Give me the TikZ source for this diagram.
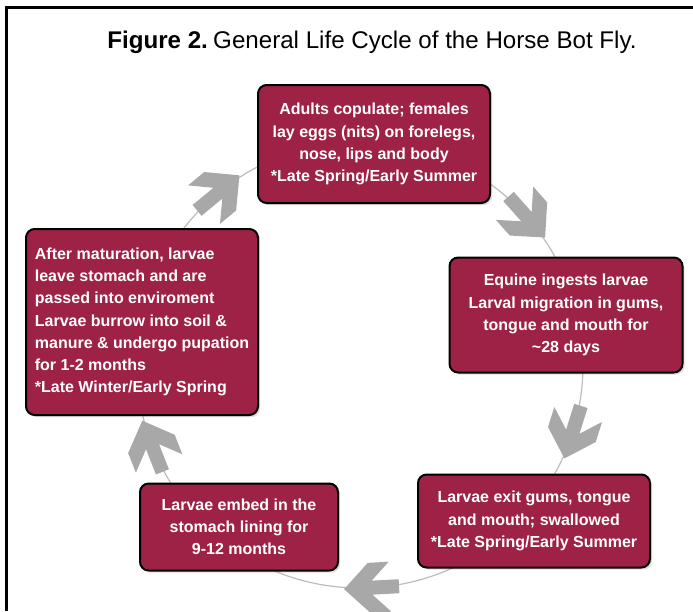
\documentclass[tikz,border=0pt]{standalone}
\usepackage{fontspec}
\setmainfont{Liberation Sans}
\usetikzlibrary{shadows,calc}

\definecolor{botred}{RGB}{158,34,70}
\definecolor{arrowgrey}{RGB}{168,168,168}
\definecolor{ringgrey}{RGB}{188,188,188}

\tikzset{
	stagebox/.style={draw=black, line width=1.5pt, fill=botred, rounded corners=6.5pt,
		text=white, inner sep=0pt, font=\fontsize{12}{16.6}\selectfont\bfseries,
		drop shadow={shadow xshift=1.6pt, shadow yshift=-1.6pt, opacity=0.25}},
	cyclearrow/.pic={
		\fill[arrowgrey] (28,0) -- (3,25) -- (-18,25) -- (0,7) -- (-27,7) -- (-27,-7) -- (0,-7) -- (-18,-25) -- (3,-25) -- cycle;
	}
}

\begin{document}
\begin{tikzpicture}[x=0.75pt,y=0.75pt,yscale=-1,xscale=1]
	\useasboundingbox (0,0) rectangle (693,611);
	
	%frame
	\draw [line width=2.25pt] (6.5,611) -- (6.5,7.5) -- (693,7.5) ;
	
	\node (title) at (372,42) {\fontsize{18.1}{20}\selectfont\textbf{Figure 2.}\hspace{-0.15em} General Life Cycle of the Horse Bot Fly.};
	
	%ring
	\coordinate (ring) at (360,365);
	\draw [color=ringgrey, line width=0.9pt] (ring) circle [radius=223] ;
	
	\foreach \ang in {-129.6,-41.7,17.4,86.9,158.5}
		\pic [rotate=-\ang-90] at ($(ring)+(\ang:223)$) {cyclearrow};
	
	%stages
	\node [stagebox, minimum width=174pt, minimum height=88.5pt, align=center] (adults) at (374,144) {Adults copulate; females\\lay eggs (nits) on forelegs,\\nose, lips and body\\*Late Spring/Early Summer};
	\node [stagebox, minimum width=174.75pt, minimum height=86.25pt, align=center] (ingest) at (566,315) {Equine ingests larvae\\Larval migration in gums,\\tongue and mouth for\\\textasciitilde28 days};
	\node [stagebox, minimum width=174pt, minimum height=69.75pt, align=center] (swallow) at (534,521) {Larvae exit gums, tongue\\and mouth; swallowed\\*Late Spring/Early Summer};
	\node [stagebox, minimum width=148.5pt, minimum height=65.25pt, align=center] (embed) at (239,527) {Larvae embed in the\\stomach lining for\\9-12 months};
	\node [stagebox, minimum width=174pt, minimum height=139.5pt, align=left] (pupa) at (142,322) {After maturation, larvae\\leave stomach and are\\passed into enviroment\\Larvae burrow into soil \&\\manure \& undergo pupation\\for 1-2 months\\*Late Winter/Early Spring};
	
\end{tikzpicture}
\end{document}
